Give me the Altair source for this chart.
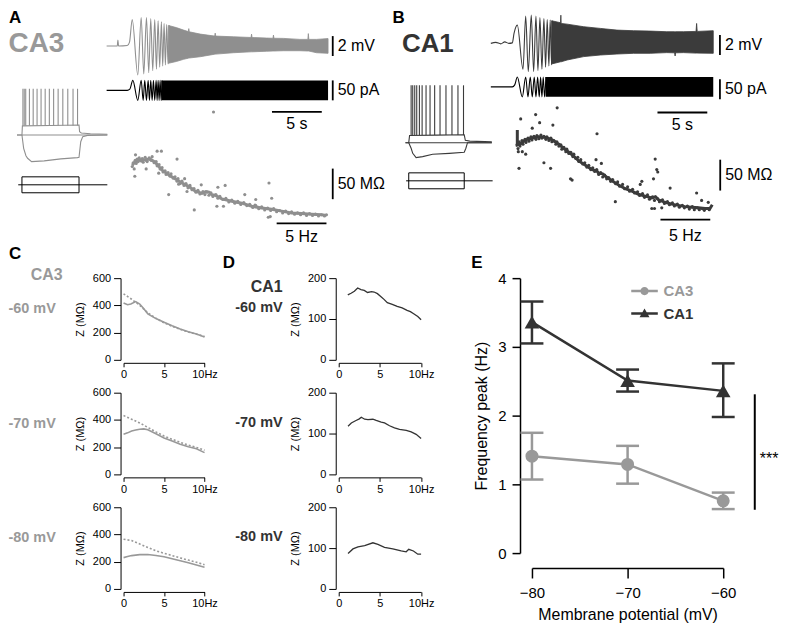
import altair as alt
import pandas as pd

FONT = "Liberation Sans"
CA3_COL = "#999999"
CA1_COL = "#333333"
A_TRACE = "#8f8f8f"
B_TRACE = "#3b3b3b"

# ====================== Panel A (CA3) ======================
# voltage response to the ZAP current: first cycles (s, mV)
A_V_T = [0, 1.07, 1.13, 1.2, 2.07, 2.3, 2.57, 3.13, 3.47, 3.73, 4.0, 4.23, 4.43, 4.63, 4.83,
         5.0, 5.17, 5.33, 5.5, 5.63, 5.77, 5.9, 6.03, 6.17, 6.3]
A_V_MV = [0, 0, 0.6, 0, 0.05, 0.4, 2.67, -2.9, 2.87, -2.8, 2.87, -2.67, 2.77, -2.47, 2.67,
          -2.33, 2.53, -2.13, 2.43, -2.0, 2.27, -1.9, 2.17, -1.8, 2.07]
# envelope of the dense high-frequency part (s, mV)
A_ENV_T = [6.2, 7.0, 7.73, 8.2, 8.25, 8.3, 9.4, 10.85, 10.9, 10.95, 12.73, 14.5, 14.55, 14.6,
           16.07, 16.7, 16.75, 16.8, 17.73, 19.4, 20.2, 20.25, 20.3, 21.07, 22.23]
A_ENV_HI = [2.07, 1.85, 1.6, 1.45, 1.75, 1.43, 1.2, 1.0, 1.3, 1.0, 0.93, 0.86, 1.2, 0.86,
            0.8, 0.78, 1.1, 0.78, 0.77, 0.67, 0.67, 1.25, 0.67, 0.67, 0.75]
A_ENV_LO = [-1.73, -1.55, -1.33, -1.22, -1.21, -1.2, -1.07, -0.82, -0.82, -0.81, -0.67, -0.58,
            -0.58, -0.58, -0.52, -0.5, -0.5, -0.5, -0.47, -0.47, -0.5, -0.5, -0.5, -0.67, -0.73]
# ZAP current (s, pA)
A_I_T = [0, 2.07, 2.33, 2.63, 3.13, 3.47, 3.67, 3.83, 4.0, 4.17, 4.3, 4.43, 4.57, 4.7, 4.83,
         4.97, 5.07, 5.17, 5.27, 5.37, 5.47, 5.57]
A_I_PA = [0, 0, 3, 25, -25, 25, -25, 25, -25, 25, -25, 25, -25, 25, -25, 25, -25, 25, -25, 25,
          -25, 25]
A_IENV_T = [5.5, 22.23]
A_IENV_HI = [25, 25]
A_IENV_LO = [-25, -25]
# firing pattern inset (ms, mV)
A_INSET_BASE_T = [-87, 1496]
A_INSET_BASE_MV = [-70, -70]
A_INSET_DEP_T = [-87, 0, 8, 500, 1000, 1010, 1040, 1200, 1496]
A_INSET_DEP_MV = [-70, -70, -58.5, -58, -57.5, -66, -67.5, -68.5, -69]
A_INSET_HYP_T = [0, 30, 70, 99, 169, 389, 681, 972, 1000, 1030, 1065, 1147, 1496]
A_INSET_HYP_MV = [-70, -86.7, -96, -99.2, -103.4, -102.5, -100, -98.4, -98, -78.4, -72, -70.5, -70]
A_SPIKE_T = [17, 40, 66, 131, 197, 265, 335, 407, 480, 555, 634, 716, 803, 895, 974]
A_SPIKE_TOP = -12
A_PLATEAU = -58
# current step protocol (ms, pA)
A_STEP_T = [0, 1000]
A_STEP_PA = [-100, 100]
A_HOLD_T = [-65, 1496]
# impedance profile (Hz, MOhm)
A_Z_HZ = [0.5, 0.6, 0.7, 0.8, 0.9, 1.0, 1.1, 1.2, 1.4, 1.5, 1.6, 1.8, 1.9, 2.0, 2.2, 2.4, 2.5, 2.7,
          2.9, 3.0, 3.2, 3.3, 3.5, 3.6, 3.8, 3.9, 4.1, 4.3, 4.4, 4.6, 4.8, 5.0, 5.1, 5.3, 5.5, 5.7,
          5.9, 6.1, 6.3, 6.5, 6.7, 6.9, 7.1, 7.3, 7.6, 7.8, 8.0, 8.2, 8.4, 8.6, 8.9, 9.1, 9.3, 9.6,
          9.9, 10.2, 10.5, 10.8, 11.1, 11.4, 11.7, 12.0, 12.3, 12.6, 12.9, 13.2, 13.5, 13.8, 14.1,
          14.4, 14.7, 15.0, 15.3, 15.6, 15.9, 16.2, 16.5, 16.8, 17.1, 17.4, 17.7, 18.0, 18.3, 18.6,
          18.9, 19.2, 19.5, 19.8, 20.0,
          3.0, 3.43, 0.83, 5.0, 0.76, 4.16, 5.76, 7.43, 6.73, 9.1, 9.83, 9.0, 9.66, 11.8, 12.9,
          12.83, 14.23, 14.5, 14.16, 14.36, 1.9, 3.16, 5.16, 6.0, 8.66]
A_Z_MOHM = [180, 186, 176, 190, 185, 192, 188, 194, 189, 193, 187, 195, 190, 188, 194, 190, 196,
            186, 188, 181, 183, 176, 178, 171, 173, 167, 170, 164, 168, 161, 163, 156, 160, 152,
            156, 149, 152, 145, 149, 142, 144, 138, 141, 135, 139, 134, 138, 133, 137, 131, 134,
            128, 131, 126, 128, 122, 125, 120, 123, 118, 121, 116, 118, 113, 116, 111, 114, 109,
            112, 108, 111, 106, 108, 104, 107, 103, 106, 102, 104, 101, 104, 100, 103, 100, 102,
            99, 101, 99, 101,
            205, 205, 199, 192, 164, 134, 160, 150, 109, 146, 149, 115, 115, 134, 126, 117, 153,
            128, 97, 98, 176, 169, 151, 139, 269]
A_ZFIT_HZ = [0.5, 0.8, 1.3, 1.8, 2.3, 2.8, 3.5, 4.2, 4.8, 5.5, 6.2, 6.8, 7.5, 7.9, 8.2, 8.5, 8.8,
             9.5, 10.5, 11.5, 12.5, 13.5, 14.5, 15.5, 16.5, 17.5, 18.5, 19.5, 20.0]
A_ZFIT_MOHM = [182, 188, 191, 191, 192, 187, 174, 166, 160, 153, 147, 140, 136, 139, 138, 134, 133,
               127, 123, 120, 115, 112, 110, 107, 104, 103, 102, 101, 100]
# scale bars: (position, from, to)
A_VBAR = [22.7, -1, 1]          # s, mV
A_IBAR = [22.7, -25, 25]        # s, pA
A_TBAR = [16.6, 21.6, -6.6]     # s, s, mV
A_ZBAR = [20.63, 126.5, 176.5]  # Hz, MOhm
A_FBAR = [15, 20, 87]           # Hz, Hz, MOhm

# ====================== Panel B (CA1) ======================
B_V_T = [0, 0.5, 1.0, 1.4, 1.8, 2.16, 2.33, 2.66, 3.23, 3.5, 3.76, 4.06, 4.3, 4.53, 4.73, 4.93,
         5.13, 5.33, 5.5, 5.66, 5.83, 5.96, 6.1, 6.2]
B_V_MV = [0, 0.1, -0.05, 0.15, 0.0, 0.05, 1.0, 1.83, -2.6, 2.73, -2.83, 2.83, -2.83, 2.73, -2.73,
          2.6, -2.6, 2.5, -2.4, 2.4, -2.27, 2.33, -2.17, 2.27]
B_ENV_T = [6.1, 7.0, 7.03, 7.06, 7.66, 9.33, 11.0, 12.66, 14.33, 16.0, 17.66, 18.45, 18.5, 18.55,
           19.33, 20.6, 20.66, 20.72, 22.33]
B_ENV_HI = [2.27, 2.07, 2.83, 2.0, 1.93, 1.67, 1.5, 1.33, 1.27, 1.23, 1.17, 1.17, 1.17, 1.17,
            1.17, 1.2, 2.0, 1.2, 1.27]
B_ENV_LO = [-2.07, -1.85, -1.85, -1.85, -1.67, -1.33, -1.17, -1.07, -1.0, -1.0, -0.93, -0.95,
            -1.27, -0.95, -0.93, -0.98, -0.98, -0.98, -1.0]
B_I_T = [0, 2.16, 2.4, 2.66, 3.16, 3.5, 3.73, 3.96, 4.16, 4.36, 4.53, 4.7, 4.86, 5.0, 5.13, 5.26,
         5.4, 5.53]
B_I_PA = [0, 0, 5, 25, -25, 25, -25, 25, -25, 25, -25, 25, -25, 25, -25, 25, -25, 25]
B_IENV_T = [5.5, 22.33]
B_IENV_HI = [25, 25]
B_IENV_LO = [-25, -25]
B_INSET_BASE_T = [-59, 1497]
B_INSET_BASE_MV = [-70, -70]
B_INSET_DEP_T = [-59, 0, 15, 500, 1000, 1020, 1100, 1497]
B_INSET_DEP_MV = [-70, -70, -61, -60.5, -60, -67, -68, -69]
B_INSET_HYP_T = [0, 43, 72, 133, 251, 431, 731, 1000, 1030, 1059, 1497]
B_INSET_HYP_MV = [-70, -77, -83.4, -88.75, -87.5, -84.6, -83.4, -82, -77, -70, -70]
B_SPIKE_T = [43, 72, 108, 144, 192, 241, 312, 384, 467, 564, 671, 779, 887, 987]
B_SPIKE_TOP = 2
B_PLATEAU = -60.5
B_STEP_T = [0, 1000]
B_STEP_PA = [-100, 100]
B_HOLD_T = [-47, 1512]
B_Z_HZ = [0.6, 0.7, 0.8, 0.9, 1.0, 1.1, 1.2, 1.4, 1.5, 1.7, 1.8, 2.0, 2.1, 2.3, 2.5, 2.6, 2.8, 3.0,
          3.1, 3.3, 3.5, 3.6, 3.8, 4.0, 4.1, 4.3, 4.5, 4.6, 4.8, 5.0, 5.1, 5.3, 5.5, 5.6, 5.8, 6.0,
          6.2, 6.3, 6.5, 6.7, 6.8, 7.0, 7.2, 7.4, 7.6, 7.8, 8.0, 8.2, 8.4, 8.6, 8.8, 9.0, 9.2, 9.4,
          9.6, 9.8, 10.0, 10.2, 10.5, 10.7, 10.9, 11.2, 11.4, 11.7, 11.9, 12.2, 12.4, 12.7, 12.9,
          13.2, 13.4, 13.7, 13.9, 14.2, 14.4, 14.7, 14.9, 15.2, 15.4, 15.7, 15.9, 16.2, 16.4, 16.7,
          16.9, 17.2, 17.4, 17.7, 17.9, 18.2, 18.4, 18.7, 18.9, 19.2, 19.4, 19.7, 19.9,
          4.63, 0.97, 2.47, 2.87, 4.2, 0.8, 3.3, 3.97, 5.97, 6.13, 8.63, 8.53, 9.07, 10.47, 13.13,
          12.97, 14.47, 14.63, 14.73, 14.3, 14.13, 14.4, 15.97, 15.13, 18.63, 19.13, 19.8, 1.47,
          1.13, 0.73, 2.13]
B_Z_MOHM = [205, 199, 210, 203, 208, 212, 206, 214, 209, 216, 211, 218, 213, 219, 214, 220, 215,
            221, 216, 219, 214, 218, 212, 216, 210, 212, 206, 210, 203, 205, 198, 201, 194, 198,
            191, 193, 186, 190, 183, 185, 178, 181, 174, 176, 169, 172, 165, 168, 162, 165, 157,
            160, 153, 156, 150, 152, 146, 149, 142, 145, 138, 141, 134, 137, 130, 133, 127, 129,
            123, 126, 120, 124, 117, 121, 115, 118, 113, 116, 110, 113, 108, 111, 106, 109, 104,
            107, 103, 106, 101, 105, 100, 103, 100, 102, 99, 102, 100,
            265, 247, 254, 241, 237, 167, 176, 167, 150, 148, 223, 181, 175, 113, 146, 141, 182,
            165, 161, 150, 102, 102, 135, 103, 127, 115, 112, 190, 194, 194, 232]
B_ZFIT_HZ = [0.63, 0.63, 0.97, 1.47, 2.13, 2.8, 3.47, 4.13, 4.8, 5.47, 6.13, 6.8, 7.47, 8.13, 8.6,
             8.8, 9.2, 9.47, 10.13, 10.8, 11.47, 12.13, 12.8, 13.47, 14.13, 14.5, 14.8, 15.47,
             16.13, 16.8, 17.47, 18.13, 18.8, 19.47, 19.97, 20.2]
B_ZFIT_MOHM = [229, 205, 207, 213, 216, 218, 217, 213, 206, 197, 189, 179, 172, 165, 163, 159,
               158, 154, 147, 140, 134, 130, 125, 122, 119, 121, 116, 112, 109, 107, 105, 104,
               103, 102, 102, 108]
B_VBAR = [23.0, -1.17, 0.83]
B_IBAR = [23.0, -31, 19]
B_TBAR = [16.73, 21.73, -6.94]
B_ZBAR = [21.0, 131, 181]
B_FBAR = [15, 20, 83.9]

# ====================== Panel C (CA3 impedance) ======================
C_FIT_HZ = [0, 1, 2, 3, 4, 5, 6, 7, 8, 9, 10]
C60_HZ = [0, 0.5, 0.9, 1.5, 2.0, 2.5, 3.0, 4.0, 5.0, 6.0, 7.0, 8.0, 9.0, 10.0]
C60_Z = [418, 405, 410, 428, 410, 375, 338, 303, 276, 250, 227, 206, 190, 168]
C60_FIT_Z = [485, 445, 400, 345, 305, 272, 246, 224, 204, 188, 172]
C70_HZ = [0, 0.5, 1, 1.5, 2, 2.5, 3, 4, 5, 6, 7, 8, 9, 10]
C70_Z = [295, 305, 318, 326, 332, 334, 328, 298, 268, 245, 222, 203, 188, 160]
C70_FIT_Z = [432, 405, 378, 345, 312, 282, 258, 235, 215, 198, 178]
C80_HZ = [0, 0.5, 1, 2, 3, 4, 5, 6, 7, 8, 9, 10]
C80_Z = [230, 238, 245, 252, 253, 246, 236, 222, 207, 192, 176, 160]
C80_FIT_Z = [365, 355, 330, 305, 280, 262, 245, 228, 212, 196, 178]

# ====================== Panel D (CA1 impedance) ======================
D60_HZ = [1.1, 1.5, 1.9, 2.3, 2.7, 3.1, 3.5, 4.0, 4.3, 4.7, 5.1, 5.5, 5.9, 6.5, 7.1, 7.7, 8.3, 8.7,
          9.1, 9.6, 10.0]
D60_Z = [159, 163, 168, 176, 172, 170, 165, 167, 166, 162, 155, 148, 140, 136, 131, 127, 121, 118,
         113, 106, 98]
D70_HZ = [1.13, 1.53, 2.1, 2.5, 2.74, 3.15, 3.55, 4.15, 4.55, 5.16, 5.56, 6.17, 6.77, 7.38, 8.2,
          8.8, 9.4, 10.0]
D70_Z = [118, 126, 132, 136, 140, 135, 134, 135, 132, 128, 126, 119, 114, 110, 108, 104, 98, 88]
D80_HZ = [1.13, 1.73, 2.34, 3.15, 4.15, 4.76, 5.56, 6.57, 7.58, 8.19, 8.5, 9.07, 9.6, 10.0]
D80_Z = [87, 98, 103, 106, 113, 109, 102, 98, 93, 91, 97, 93, 85, 85]

# ====================== Panel E (frequency peak) ======================
E_MV = [-80, -70, -60]
E_CA3 = [1.41, 1.29, 0.76]
E_CA3_LO = [1.07, 1.01, 0.64]
E_CA3_HI = [1.75, 1.56, 0.88]
E_CA1 = [3.36, 2.51, 2.36]
E_CA1_LO = [3.05, 2.35, 1.98]
E_CA1_HI = [3.66, 2.67, 2.76]
E_SIG = [-56.7, 0.63, 2.31]      # x, from, to
E_SIG_TEXT = [-55.2, 1.43]

# ---------------- layout helpers ----------------
DUMMY = pd.DataFrame({"k": [0]})
ORIGIN_X, ORIGIN_Y = 8, 8     # page position of the chart origin
TOP_H = 240                   # drawing height of the trace panels


def lin_x(left, width, ref_px, ref_val, ppu):
    return [ref_val + (left - ref_px) / ppu, ref_val + (left + width - ref_px) / ppu]


def lin_y(top, height, ref_px, ref_val, ppu):
    return [ref_val - (top + height - ref_px) / ppu, ref_val + (ref_px - top) / ppu]


def label(text, x, y, size, color="black", weight="bold", align="left", baseline="middle"):
    return alt.Chart(DUMMY).mark_text(
        text=text, fontSize=size, fontWeight=weight, color=color, align=align,
        baseline=baseline, font=FONT
    ).encode(x=alt.value(x), y=alt.value(y))


def spacer():
    return (alt.Chart(DUMMY).transform_filter("false").mark_point()
            .properties(width=1, height=1))


def panel_layers(P, left, width, color, letter, letter_x, name, name_x, name_size, name_color,
                 t_dy, hz_dy):
    top = ORIGIN_Y
    x0 = left - ORIGIN_X

    def X(f, spec):
        return alt.X(f, type="quantitative", axis=None,
                     scale=alt.Scale(domain=lin_x(left, width, *spec), range=[x0, x0 + width],
                                     nice=False, zero=False))

    def Y(f, spec):
        return alt.Y(f, type="quantitative", axis=None,
                     scale=alt.Scale(domain=lin_y(top, TOP_H, *spec), range=[TOP_H, 0],
                                     nice=False, zero=False))

    VX, VY, IY, NX, NY, PY, ZX, ZY = (P["VX"], P["VY"], P["IY"], P["NX"], P["NY"], P["PY"],
                                      P["ZX"], P["ZY"])
    L = []
    # voltage response
    L.append(alt.Chart(pd.DataFrame({"t": P["v_t"], "v": P["v_mv"]})).mark_line(
        color=color, strokeWidth=1.1, interpolate="monotone").encode(x=X("t", VX), y=Y("v", VY)))
    L.append(alt.Chart(pd.DataFrame({"t": P["env_t"], "hi": P["env_hi"], "lo": P["env_lo"]}))
             .mark_area(color=color, opacity=1, stroke=color, strokeWidth=0.8)
             .encode(x=X("t", VX), y=Y("hi", VY), y2="lo"))
    # ZAP current
    L.append(alt.Chart(pd.DataFrame({"t": P["i_t"], "i": P["i_pa"]})).mark_line(
        color="black", strokeWidth=1.1, interpolate="monotone").encode(x=X("t", VX), y=Y("i", IY)))
    L.append(alt.Chart(pd.DataFrame({"t": P["ienv_t"], "hi": P["ienv_hi"], "lo": P["ienv_lo"]}))
             .mark_area(color="black", opacity=1).encode(x=X("t", VX), y=Y("hi", IY), y2="lo"))
    # scale bars for the traces
    vb, ib, tb = P["vbar"], P["ibar"], P["tbar"]
    L.append(alt.Chart(pd.DataFrame({"t": [vb[0]], "lo": [vb[1]], "hi": [vb[2]]})).mark_rule(
        color="black", strokeWidth=1.8).encode(x=X("t", VX), y=Y("lo", VY), y2="hi"))
    L.append(alt.Chart(pd.DataFrame({"t": [vb[0]], "v": [(vb[1] + vb[2]) / 2], "s": ["2 mV"]}))
             .mark_text(align="left", dx=5, fontSize=16, baseline="middle", font=FONT)
             .encode(x=X("t", VX), y=Y("v", VY), text="s:N"))
    L.append(alt.Chart(pd.DataFrame({"t": [ib[0]], "lo": [ib[1]], "hi": [ib[2]]})).mark_rule(
        color="black", strokeWidth=1.8).encode(x=X("t", VX), y=Y("lo", IY), y2="hi"))
    L.append(alt.Chart(pd.DataFrame({"t": [ib[0]], "i": [(ib[1] + ib[2]) / 2], "s": ["50 pA"]}))
             .mark_text(align="left", dx=5, fontSize=16, baseline="middle", font=FONT)
             .encode(x=X("t", VX), y=Y("i", IY), text="s:N"))
    L.append(alt.Chart(pd.DataFrame({"t0": [tb[0]], "t1": [tb[1]], "v": [tb[2]]})).mark_rule(
        color="black", strokeWidth=1.8).encode(x=X("t0", VX), x2="t1", y=Y("v", VY)))
    L.append(alt.Chart(pd.DataFrame({"t": [(tb[0] + tb[1]) / 2], "v": [tb[2]], "s": ["5 s"]}))
             .mark_text(align="center", dy=t_dy, fontSize=16, baseline="middle", font=FONT)
             .encode(x=X("t", VX), y=Y("v", VY), text="s:N"))
    # firing pattern inset
    ins = pd.DataFrame({
        "t": P["base_t"] + P["dep_t"] + P["hyp_t"],
        "v": P["base_mv"] + P["dep_mv"] + P["hyp_mv"],
        "trace": (["base"] * len(P["base_t"]) + ["dep"] * len(P["dep_t"])
                  + ["hyp"] * len(P["hyp_t"])),
    })
    ins["i"] = range(len(ins))
    L.append(alt.Chart(ins).mark_line(color=color, strokeWidth=1.1).encode(
        x=X("t", NX), y=Y("v", NY), detail="trace:N", order="i:Q"))
    sp = pd.DataFrame({"t": P["spike_t"], "lo": [P["plateau"]] * len(P["spike_t"]),
                       "hi": [P["spike_top"]] * len(P["spike_t"])})
    L.append(alt.Chart(sp).mark_rule(color=color, strokeWidth=1.1).encode(
        x=X("t", NX), y=Y("lo", NY), y2="hi"))
    # step protocol
    L.append(alt.Chart(pd.DataFrame({"t0": [P["step_t"][0]], "t1": [P["step_t"][1]],
                                     "lo": [P["step_pa"][0]], "hi": [P["step_pa"][1]]}))
             .mark_rect(fillOpacity=0, stroke="black", strokeWidth=1)
             .encode(x=X("t0", NX), x2="t1", y=Y("lo", PY), y2="hi"))
    L.append(alt.Chart(pd.DataFrame({"t0": [P["hold_t"][0]], "t1": [P["hold_t"][1]], "i": [0]}))
             .mark_rule(color="black", strokeWidth=1)
             .encode(x=X("t0", NX), x2="t1", y=Y("i", PY)))
    # impedance profile
    fit = pd.DataFrame({"hz": P["zfit_hz"], "z": P["zfit"]})
    fit["i"] = range(len(fit))
    L.append(alt.Chart(fit).mark_line(color=color, strokeWidth=3).encode(
        x=X("hz", ZX), y=Y("z", ZY), order="i:Q"))
    L.append(alt.Chart(pd.DataFrame({"hz": P["z_hz"], "z": P["z"]})).mark_circle(
        size=10, color=color, opacity=1).encode(x=X("hz", ZX), y=Y("z", ZY)))
    zb, fb = P["zbar"], P["fbar"]
    L.append(alt.Chart(pd.DataFrame({"hz": [zb[0]], "lo": [zb[1]], "hi": [zb[2]]})).mark_rule(
        color="black", strokeWidth=1.8).encode(x=X("hz", ZX), y=Y("lo", ZY), y2="hi"))
    L.append(alt.Chart(pd.DataFrame({"hz": [zb[0]], "z": [(zb[1] + zb[2]) / 2],
                                     "s": ["50 M\u03a9"]}))
             .mark_text(align="left", dx=5, fontSize=16, baseline="middle", font=FONT)
             .encode(x=X("hz", ZX), y=Y("z", ZY), text="s:N"))
    L.append(alt.Chart(pd.DataFrame({"h0": [fb[0]], "h1": [fb[1]], "z": [fb[2]]})).mark_rule(
        color="black", strokeWidth=1.8).encode(x=X("h0", ZX), x2="h1", y=Y("z", ZY)))
    L.append(alt.Chart(pd.DataFrame({"hz": [(fb[0] + fb[1]) / 2], "z": [fb[2]], "s": ["5 Hz"]}))
             .mark_text(align="center", dy=hz_dy, fontSize=16, baseline="middle", font=FONT)
             .encode(x=X("hz", ZX), y=Y("z", ZY), text="s:N"))
    # panel letter and region name
    L.append(label(letter, x0 + letter_x, 0, 17, baseline="top"))
    L.append(label(name, x0 + name_x, 34, name_size, color=name_color, align="center"))
    return L


PA = dict(
    v_t=A_V_T, v_mv=A_V_MV, env_t=A_ENV_T, env_hi=A_ENV_HI, env_lo=A_ENV_LO,
    i_t=A_I_T, i_pa=A_I_PA, ienv_t=A_IENV_T, ienv_hi=A_IENV_HI, ienv_lo=A_IENV_LO,
    base_t=A_INSET_BASE_T, base_mv=A_INSET_BASE_MV, dep_t=A_INSET_DEP_T, dep_mv=A_INSET_DEP_MV,
    hyp_t=A_INSET_HYP_T, hyp_mv=A_INSET_HYP_MV, spike_t=A_SPIKE_T, spike_top=A_SPIKE_TOP,
    plateau=A_PLATEAU, step_t=A_STEP_T, step_pa=A_STEP_PA, hold_t=A_HOLD_T,
    z_hz=A_Z_HZ, z=A_Z_MOHM, zfit_hz=A_ZFIT_HZ, zfit=A_ZFIT_MOHM,
    vbar=A_VBAR, ibar=A_IBAR, tbar=A_TBAR, zbar=A_ZBAR, fbar=A_FBAR,
    VX=(106, 0, 10), VY=(44, 0, 10), IY=(88.5, 0, 0.4), NX=(21, 0, 0.0573),
    NY=(133.3, -70, 0.8), PY=(183.3, 0, 0.08), ZX=(126.7, 0, 10), ZY=(214, 100, 0.614),
)
PB = dict(
    v_t=B_V_T, v_mv=B_V_MV, env_t=B_ENV_T, env_hi=B_ENV_HI, env_lo=B_ENV_LO,
    i_t=B_I_T, i_pa=B_I_PA, ienv_t=B_IENV_T, ienv_hi=B_IENV_HI, ienv_lo=B_IENV_LO,
    base_t=B_INSET_BASE_T, base_mv=B_INSET_BASE_MV, dep_t=B_INSET_DEP_T, dep_mv=B_INSET_DEP_MV,
    hyp_t=B_INSET_HYP_T, hyp_mv=B_INSET_HYP_MV, spike_t=B_SPIKE_T, spike_top=B_SPIKE_TOP,
    plateau=B_PLATEAU, step_t=B_STEP_T, step_pa=B_STEP_PA, hold_t=B_HOLD_T,
    z_hz=B_Z_HZ, z=B_Z_MOHM, zfit_hz=B_ZFIT_HZ, zfit=B_ZFIT_MOHM,
    vbar=B_VBAR, ibar=B_IBAR, tbar=B_TBAR, zbar=B_ZBAR, fbar=B_FBAR,
    VX=(491.7, 0, 10), VY=(41.3, 0, 10), IY=(85, 0, 0.4), NX=(409.3, 0, 0.0557),
    NY=(141, -70, 0.8), PY=(179.3, 0, 0.08), ZX=(512, 0, 10), ZY=(208.3, 100, 0.62),
)

# widths of the grid columns (page x: 8, 122.7, 204, 337.3, 420, 531, 723)
COL_W = [114.7, 81.3, 133.3, 82.7, 111, 192]
PLOT_H = 82
ROW_GAP = 33

top_layers = (panel_layers(PA, 8, 382, A_TRACE, "A", 0, "CA3", 27.5, 28, CA3_COL, 12, 14)
              + panel_layers(PB, 390, 380, B_TRACE, "B", 3, "CA1", 38.5, 26, CA1_COL, 13, 16))
top_panel = (alt.layer(*top_layers).resolve_scale(x="independent", y="independent")
             .properties(width=COL_W[0], height=277 - ORIGIN_Y - ROW_GAP))


# ---------------- panels C and D ----------------
def imp_plot(hz, z, fit_hz, fit_z, ymax, yvals, color, width, width_line):
    xs = alt.Scale(domain=[0, 10], nice=False, zero=False)
    ys = alt.Scale(domain=[0, ymax], nice=False, zero=False)
    xa = alt.Axis(values=[0, 5, 10], labelExpr="datum.value == 10 ? '10Hz' : datum.label",
                  offset=3, tickSize=4, labelPadding=2, labelFontSize=11, labelFlush=False,
                  title=None, grid=False)
    ya = alt.Axis(values=yvals, offset=3, tickSize=7, labelPadding=3, labelFontSize=11,
                  labelFlush=False, title="Z (M\u03a9)", titleFontSize=11,
                  titleFontWeight="normal", titlePadding=7, grid=False)
    layers = [alt.Chart(pd.DataFrame({"hz": hz, "z": z})).mark_line(
        color=color, strokeWidth=width_line).encode(
        x=alt.X("hz:Q", scale=xs, axis=xa), y=alt.Y("z:Q", scale=ys, axis=ya))]
    if fit_z is not None:
        layers.append(alt.Chart(pd.DataFrame({"hz": fit_hz, "z": fit_z})).mark_line(
            color=color, strokeWidth=1.6, strokeDash=[2, 2]).encode(
            x=alt.X("hz:Q", scale=xs, axis=xa), y=alt.Y("z:Q", scale=ys, axis=ya)))
    return alt.layer(*layers).properties(width=width, height=PLOT_H)


c60 = imp_plot(C60_HZ, C60_Z, C_FIT_HZ, C60_FIT_Z, 600, [0, 200, 400, 600], CA3_COL, COL_W[1], 1.6)
c70 = imp_plot(C70_HZ, C70_Z, C_FIT_HZ, C70_FIT_Z, 600, [0, 200, 400, 600], CA3_COL, COL_W[1], 1.6)
c80 = imp_plot(C80_HZ, C80_Z, C_FIT_HZ, C80_FIT_Z, 600, [0, 200, 400, 600], CA3_COL, COL_W[1], 1.6)
d60 = imp_plot(D60_HZ, D60_Z, None, None, 200, [0, 100, 200], CA1_COL, COL_W[3], 1.3)
d70 = imp_plot(D70_HZ, D70_Z, None, None, 200, [0, 100, 200], CA1_COL, COL_W[3], 1.3)
d80 = imp_plot(D80_HZ, D80_Z, None, None, 200, [0, 100, 200], CA1_COL, COL_W[3], 1.3)

lab_c = alt.layer(
    label("C", 0, -24.5, 17),
    label("CA3", 53.7, -3, 16, color=CA3_COL, align="right"),
    label("-60 mV", 47, 31, 14.5, color=CA3_COL, align="right"),
    label("-70 mV", 47, 146, 14.5, color=CA3_COL, align="right"),
    label("-80 mV", 47, 261, 14.5, color=CA3_COL, align="right"),
).properties(width=COL_W[0], height=PLOT_H)
lab_d = alt.layer(
    label("D", 17.7, -15.3, 17),
    label("CA1", 77.7, 8.8, 16, color=CA1_COL, align="right"),
    label("-60 mV", 77.7, 30, 14.5, color=CA1_COL, align="right"),
    label("-70 mV", 77.7, 145, 14.5, color=CA1_COL, align="right"),
    label("-80 mV", 77.7, 260, 14.5, color=CA1_COL, align="right"),
).properties(width=COL_W[2], height=PLOT_H)
lab_e = alt.layer(label("E", 50, -15.3, 17)).properties(width=COL_W[4], height=PLOT_H)

# ---------------- panel E ----------------
E_H = 276
e_df = pd.DataFrame({
    "mv": E_MV + E_MV,
    "cell": ["CA3"] * 3 + ["CA1"] * 3,
    "f": E_CA3 + E_CA1,
    "lo": E_CA3_LO + E_CA1_LO,
    "hi": E_CA3_HI + E_CA1_HI,
})
ex_scale = alt.Scale(domain=[-80, -60], nice=False, zero=False)
ey_scale = alt.Scale(domain=[0, 4], range=[E_H, 0], nice=False, zero=False)
ex_axis = alt.Axis(values=E_MV, offset=E_H - PLOT_H + 15, tickSize=10, labelPadding=8,
                   labelFontSize=15, labelFlush=False, title="Membrane potential (mV)",
                   titleFontSize=16, titleFontWeight="normal", titlePadding=6, domainWidth=1.5,
                   tickWidth=1.5, grid=False)
ey_axis = alt.Axis(values=[0, 1, 2, 3, 4], offset=12, tickSize=8, labelPadding=6,
                   labelFontSize=15, labelFlush=False, title="Frequency peak (Hz)",
                   titleFontSize=16, titleFontWeight="normal", titlePadding=8, domainWidth=1.5,
                   tickWidth=1.5, grid=False)


def ex(f):
    return alt.X(f, type="quantitative", scale=ex_scale, axis=ex_axis)


def ey(f):
    return alt.Y(f, type="quantitative", scale=ey_scale, axis=ey_axis)


e_layers = []
for cell, col in (("CA3", CA3_COL), ("CA1", CA1_COL)):
    d = e_df[e_df["cell"] == cell]
    base = alt.Chart(d)
    e_layers.append(base.mark_line(color=col, strokeWidth=2.5).encode(x=ex("mv"), y=ey("f")))
    e_layers.append(base.mark_rule(color=col, strokeWidth=2.5).encode(
        x=ex("mv"), y=ey("lo"), y2="hi"))
    e_layers.append(base.mark_tick(color=col, orient="horizontal", size=23, thickness=2.5,
                                   opacity=1).encode(x=ex("mv"), y=ey("lo")))
    e_layers.append(base.mark_tick(color=col, orient="horizontal", size=23, thickness=2.5,
                                   opacity=1).encode(x=ex("mv"), y=ey("hi")))
    if cell == "CA3":
        e_layers.append(base.mark_circle(color=col, size=170, opacity=1).encode(
            x=ex("mv"), y=ey("f")))
    else:
        e_layers.append(base.mark_point(shape="triangle-up", filled=True, color=col, size=215,
                                        opacity=1).encode(x=ex("mv"), y=ey("f")))

CIRCLE_STUB = ("M-1.5,-0.14L1.5,-0.14L1.5,0.14L-1.5,0.14Z "
               "M0.47,0A0.47,0.47 0 1,1 -0.47,0A0.47,0.47 0 1,1 0.47,0Z")
TRI_STUB = "M-1.5,-0.14L1.5,-0.14L1.5,0.14L-1.5,0.14Z M0,-0.58L0.56,0.42L-0.56,0.42Z"
# the legend is placed by the top-level view, so its position is in page space minus origin
leg = alt.Legend(orient="none", legendX=629, legendY=273, title=None, labelFontSize=15,
                 labelFontWeight="bold",
                 labelColor={"expr": "datum.label == 'CA3' ? '#999999' : '#333333'"},
                 symbolSize=316, symbolOpacity=1, symbolStrokeWidth=0, labelOffset=10,
                 rowPadding=5.6, padding=0)
e_layers.append(alt.Chart(e_df).mark_point(filled=True, opacity=0).encode(
    x=ex("mv"), y=ey("f"),
    color=alt.Color("cell:N", scale=alt.Scale(domain=["CA3", "CA1"], range=[CA3_COL, CA1_COL]),
                    legend=leg),
    shape=alt.Shape("cell:N", scale=alt.Scale(domain=["CA3", "CA1"],
                                              range=[CIRCLE_STUB, TRI_STUB]), legend=leg)))
sig = pd.DataFrame({"x": [E_SIG[0]], "lo": [E_SIG[1]], "hi": [E_SIG[2]]})
e_layers.append(alt.Chart(sig).mark_rule(color="black", strokeWidth=2).encode(
    x=ex("x"), y=ey("lo"), y2="hi"))
sig_t = pd.DataFrame({"x": [E_SIG_TEXT[0]], "y": [E_SIG_TEXT[1]], "s": ["***"]})
e_layers.append(alt.Chart(sig_t).mark_text(fontSize=16, baseline="middle", dy=4, font=FONT)
                .encode(x=ex("x"), y=ey("y"), text="s:N"))
panel_e = alt.layer(*e_layers).properties(width=COL_W[5], height=PLOT_H)

cells = [
    top_panel, spacer(), spacer(), spacer(), spacer(), spacer(),
    lab_c, c60, lab_d, d60, lab_e, panel_e,
    spacer(), c70, spacer(), d70, spacer(), spacer(),
    spacer(), c80, spacer(), d80, spacer(), spacer(),
]

chart = alt.concat(
    *cells, columns=6, spacing={"row": ROW_GAP, "column": 0}, bounds="flush", align="each"
).properties(padding=0).configure(font=FONT).configure_view(stroke=None).configure_axis(
    domainColor="black", tickColor="black", labelColor="black", titleColor="black",
    labelFont=FONT, titleFont=FONT, grid=False
)

chart.save("out.html", embed_options={"renderer": "svg", "actions": False})
